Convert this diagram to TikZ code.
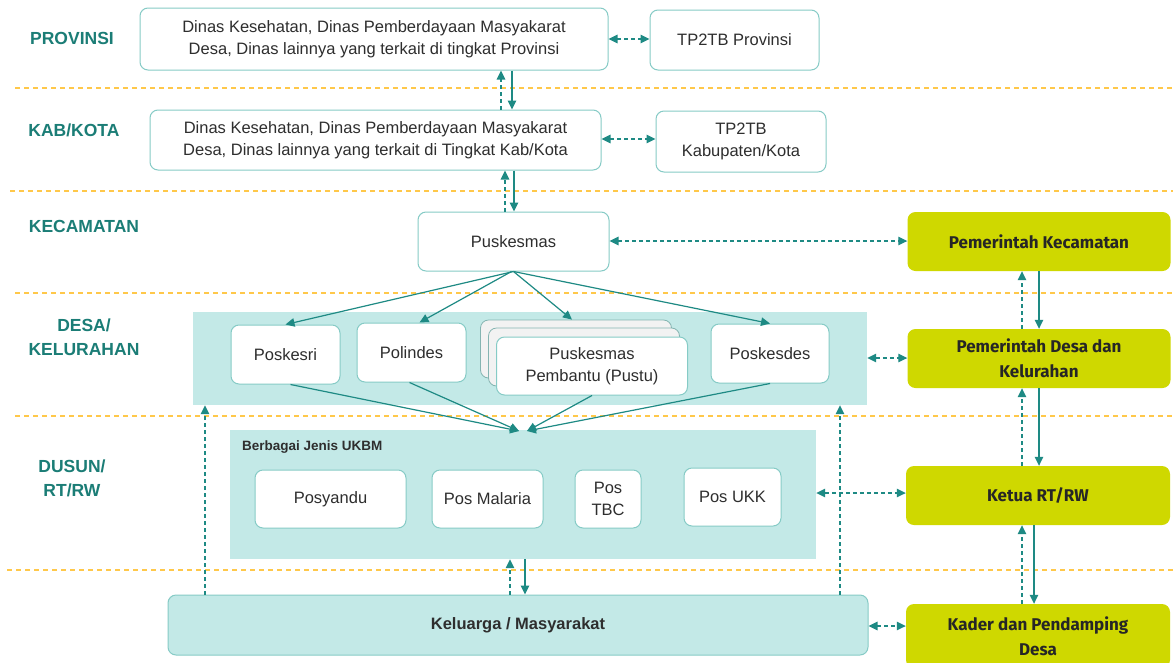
\documentclass[tikz,border=0pt]{standalone}
\usepackage{fontspec}
\setmainfont{Liberation Sans}
\newfontfamily\dinfont{Fira Sans}
\usetikzlibrary{arrows.meta}
\definecolor{teal1}{HTML}{1E8A84}
\definecolor{tealtxt}{HTML}{1B7D76}
\definecolor{bord}{HTML}{86CBC6}
\definecolor{bandc}{HTML}{C3E9E7}
\definecolor{olive}{HTML}{CFD800}
\definecolor{orng}{HTML}{FFC84A}
\definecolor{txt}{HTML}{2E2E2E}
\definecolor{sheet}{HTML}{F2F2F2}
\begin{document}
\begin{tikzpicture}[x=1pt,y=-1pt,
 wbox/.style={draw=bord, line width=1pt, fill=white, rounded corners=8pt, align=center,
   font=\fontsize{16.5}{22}\selectfont, text=txt, inner sep=0pt},
 sheetbox/.style={draw=bord!70!gray, line width=0.8pt, fill=sheet, rounded corners=8pt, inner sep=0pt},
 obox/.style={fill=olive, rounded corners=8pt, align=center,
   font=\dinfont\bfseries\fontsize{17}{25}\selectfont, text=black!85, inner sep=0pt,
   minimum width=263pt, minimum height=59pt},
 bandbox/.style={fill=bandc, inner sep=0pt},
 lvl/.style={font=\bfseries\fontsize{17.5}{24}\selectfont, text=tealtxt, align=center},
 sepline/.style={orng, line width=1.5pt, dash pattern=on 5pt off 4pt},
 conn/.style={teal1, line width=1.2pt, -{Triangle[length=9pt,width=8.5pt]}},
 dconn/.style={conn, dash pattern=on 4pt off 3pt},
 ddconn/.style={teal1, line width=1.2pt, dash pattern=on 4pt off 3pt,
   {Triangle[length=9pt,width=8.5pt]}-{Triangle[length=9pt,width=8.5pt]}}
]
\useasboundingbox (0,0) rectangle (1173,662);
\fill[white] (0,0) rectangle (1173,662);

% separators
\draw[sepline] (15,88) -- (1173,88);
\draw[sepline] (10,191) -- (1173,191);
\draw[sepline] (15,293) -- (1173,293);
\draw[sepline] (15,416) -- (1173,416);
\draw[sepline] (7,570) -- (1173,570);

% level labels
\node[lvl] (lprov) at (72,38) {PROVINSI};
\node[lvl] (lkab) at (74,130) {KAB/KOTA};
\node[lvl] (lkec) at (84,226) {KECAMATAN};
\node[lvl] (ldesa) at (84,337) {DESA/\\KELURAHAN};
\node[lvl] (ldusun) at (72,478) {DUSUN/\\RT/RW};

% bands
\node[bandbox, minimum width=674pt, minimum height=93pt] (desaband) at (530,358.5) {};
\node[bandbox, minimum width=586pt, minimum height=129pt] (ukbm) at (523,494.5) {};
\node[font=\bfseries\fontsize{13.5}{16}\selectfont, text=txt, anchor=west, inner sep=0pt] (ukbmlab) at (242,447) {Berbagai Jenis UKBM};

% top levels
\node[wbox, minimum width=468pt, minimum height=62pt] (prov) at (374,39)
  {Dinas Kesehatan, Dinas Pemberdayaan Masyakarat\\Desa, Dinas lainnya yang terkait di tingkat Provinsi};
\node[wbox, minimum width=169pt, minimum height=60pt] (tpprov) at (734.5,40) {TP2TB Provinsi};
\node[wbox, minimum width=451pt, minimum height=60pt] (kab) at (375.5,140)
  {Dinas Kesehatan, Dinas Pemberdayaan Masyakarat\\Desa, Dinas lainnya yang terkait di Tingkat Kab/Kota};
\node[wbox, minimum width=170pt, minimum height=61pt] (tpkab) at (741,141.5) {TP2TB\\Kabupaten/Kota};
\node[wbox, minimum width=191pt, minimum height=59pt] (pusk) at (513.5,241.5) {Puskesmas};

% desa level boxes
\node[wbox, minimum width=109pt, minimum height=59pt] (poskesri) at (285.5,354.5) {Poskesri};
\node[wbox, minimum width=109pt, minimum height=59pt] (polindes) at (411.5,352.5) {Polindes};
\node[sheetbox, minimum width=191pt, minimum height=58pt] (pustub) at (576,349) {};
\node[sheetbox, minimum width=191pt, minimum height=58pt] (pustua) at (584,357) {};
\node[wbox, minimum width=191pt, minimum height=58pt] (pustu) at (592,366) {Puskesmas\\Pembantu (Pustu)};
\node[wbox, minimum width=118pt, minimum height=59pt] (poskesdes) at (770,353.5) {Poskesdes};

% ukbm boxes
\node[wbox, minimum width=151pt, minimum height=58pt] (posyandu) at (330.5,499) {Posyandu};
\node[wbox, minimum width=111pt, minimum height=58pt] (posmal) at (487.5,499) {Pos Malaria};
\node[wbox, minimum width=66pt, minimum height=58pt] (postbc) at (608,499) {Pos\\TBC};
\node[wbox, minimum width=97pt, minimum height=58pt] (posukk) at (732.5,497) {Pos UKK};

% keluarga
\node[draw=bord, line width=1pt, fill=bandc, rounded corners=8pt, minimum width=700pt, minimum height=60pt,
  font=\bfseries\fontsize{16.5}{20}\selectfont, text=txt, inner sep=0pt] (kel) at (518,625) {Keluarga / Masyarakat};

% olive boxes
\node[obox] (pkec) at (1039,241.5) {Pemerintah Kecamatan};
\node[obox] (pdesa) at (1039,358.5) {Pemerintah Desa dan\\Kelurahan};
\node[obox, minimum width=264pt] (ketua) at (1038,495.5) {Ketua RT/RW};
\node[obox, minimum width=264pt, minimum height=64pt] (kader) at (1038,636) {Kader dan Pendamping\\Desa};

% lane helper coordinates
\coordinate (la) at (501,0);
\coordinate (lb) at (512,0);
\coordinate (lc) at (505,0);
\coordinate (ld) at (514,0);
\coordinate (le) at (1022,0);
\coordinate (lf) at (1039,0);
\coordinate (lg) at (1034,0);
\coordinate (lh) at (510,0);
\coordinate (li) at (525,0);
\coordinate (lj) at (205,0);
\coordinate (lk) at (840,0);
\coordinate (r0) at (0,39);
\coordinate (r5) at (0,139);
\coordinate (r1) at (0,241);
\coordinate (r2) at (0,358);
\coordinate (r3) at (0,493);
\coordinate (r4) at (0,626);
\coordinate (mL) at (519,431);
\coordinate (mR) at (527,431);

% horizontal dashed double arrows
\draw[ddconn] (prov.east |- r0) -- (tpprov.west |- r0);
\draw[ddconn] (kab.east |- r5) -- (tpkab.west |- r5);
\draw[ddconn] (pusk.east |- r1) -- (pkec.west |- r1);
\draw[ddconn] (desaband.east |- r2) -- (pdesa.west |- r2);
\draw[ddconn] (ukbm.east |- r3) -- (ketua.west |- r3);
\draw[ddconn] (kel.east |- r4) -- (kader.west |- r4);

% vertical pairs
\draw[dconn] (kab.north -| la) -- (prov.south -| la);
\draw[conn] (prov.south -| lb) -- (kab.north -| lb);
\draw[dconn] (pusk.north -| lc) -- (kab.south -| lc);
\draw[conn] (kab.south -| ld) -- (pusk.north -| ld);
\draw[dconn] (pdesa.north -| le) -- (pkec.south -| le);
\draw[conn] (pkec.south -| lf) -- (pdesa.north -| lf);
\draw[dconn] (ketua.north -| le) -- (pdesa.south -| le);
\draw[conn] (pdesa.south -| lf) -- (ketua.north -| lf);
\draw[dconn] (kader.north -| le) -- (ketua.south -| le);
\draw[conn] (ketua.south -| lg) -- (kader.north -| lg);
\draw[dconn] (kel.north -| lh) -- (ukbm.south -| lh);
\draw[conn] (ukbm.south -| li) -- (kel.north -| li);
\draw[dconn] (kel.north -| lj) -- (desaband.south -| lj);
\draw[dconn] (kel.north -| lk) -- (desaband.south -| lk);

% puskesmas fan-out
\draw[conn] (pusk.south) -- (poskesri.north);
\draw[conn] ([xshift=-2pt]pusk.south) -- ([xshift=8pt]polindes.north);
\draw[conn] (pusk.south) -- ([xshift=-4pt]pustub.north);
\draw[conn] (pusk.south) -- (poskesdes.north);

% fan-in to UKBM
\draw[conn] ([xshift=5pt]poskesri.south) -- (mL);
\draw[conn] ([xshift=-2pt]polindes.south) -- (mL);
\draw[conn] (pustu.south) -- (mR);
\draw[conn] (poskesdes.south) -- (mR);
\end{tikzpicture}
\end{document}
